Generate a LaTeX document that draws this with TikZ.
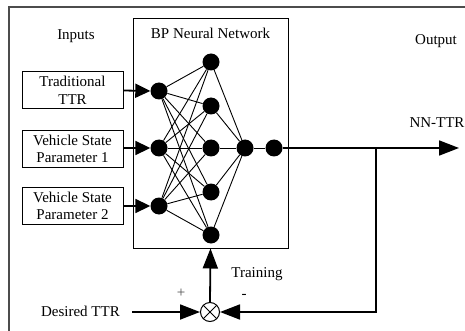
\documentclass[tikz,border=0pt]{standalone}
\usepackage{fontspec}
\setmainfont{Liberation Serif}
\usetikzlibrary{arrows.meta}
\begin{document}
\begin{tikzpicture}[x=1pt,y=-1pt,
  every node/.style={font=\fontsize{15}{17.5}\selectfont},
  inbox/.style={draw,line width=1pt,minimum width=101pt,minimum height=37pt,inner sep=1pt,align=center},
  neuron/.style={circle,fill=black,minimum size=17pt,inner sep=0pt},
  link/.style={line width=0.9pt},
  flow/.style={line width=1.8pt},
  smalltip/.style={-{Triangle[length=15pt,width=14pt]}},
  bigtip/.style={-{Triangle[length=20pt,width=15pt]}},
  lbl/.style={inner sep=0pt}
]
\useasboundingbox (0,0) rectangle (465,331);
% page frame
\draw[line width=1.2pt,black!70] (9,331) -- (9,7) -- (465,7);

% input boxes
\node[inbox] (b1) at (72.5,90.5) {Traditional\\TTR};
\node[inbox] (b2) at (72.5,149) {Vehicle State\\Parameter 1};
\node[inbox] (b3) at (72.5,206) {Vehicle State\\Parameter 2};
\node[lbl] (inputs) at (76,36) {Inputs};

% network block
\node[draw,line width=1pt,minimum width=155pt,minimum height=229pt,inner sep=0pt] (bp) at (210.5,133.5) {};
\node[lbl] (bpt) at (210.5,33) {BP Neural Network};

% neurons
\node[neuron] (i1) at (159,91) {};
\node[neuron] (i2) at (159,148) {};
\node[neuron] (i3) at (159,206) {};
\node[neuron] (h1) at (211,62) {};
\node[neuron] (h2) at (211,106) {};
\node[neuron] (h3) at (211,148) {};
\node[neuron] (h4) at (211,192) {};
\node[neuron] (h5) at (211,235) {};
\node[neuron] (o1) at (245,148) {};
\node[neuron] (o2) at (274,148) {};

% weights
\foreach \i in {i1,i2,i3}
  \foreach \h in {h1,h2,h3,h4,h5}
    \draw[link] (\i) -- (\h);
\foreach \h in {h1,h2,h3,h4,h5}
  \draw[link] (\h) -- (o1);
\draw[link] (o1) -- (o2);

% inputs into the network
\draw[flow,smalltip] (b1.east) -- (i1.west);
\draw[flow,smalltip] (b2.east |- i2) -- (i2.west);
\draw[flow,smalltip] (b3.east |- i3) -- (i3.west);

% output
\coordinate (outend) at (459,148);
\coordinate (tap) at (376,148);
\coordinate (tapdown) at (376,312);
\draw[flow,bigtip] (o2) -- (outend);
\node[lbl] (outl) at (436,41) {Output};
\node[lbl] (nnttr) at (437,123) {NN-TTR};

% training loop
\node[circle,draw,line width=1pt,minimum size=19pt,inner sep=0pt,fill=white,
  path picture={\draw[line width=0.9pt] (path picture bounding box.north west) -- (path picture bounding box.south east)
    (path picture bounding box.north east) -- (path picture bounding box.south west);}] (sum) at (210,312) {};
\node[lbl,anchor=east] (des) at (120,311) {Desired TTR};
\draw[flow,bigtip] (132,312) -- (sum.west);
\draw[flow,bigtip] (tap) -- (tapdown) -- (sum.east);
\draw[flow,bigtip] (sum.north) -- (bp.south);
\node[lbl,text=black!70] (plus) at (181,293) {+};
\node[lbl] (minus) at (244,296) {-};
\node[lbl] (train) at (257,274) {Training};
\end{tikzpicture}
\end{document}
